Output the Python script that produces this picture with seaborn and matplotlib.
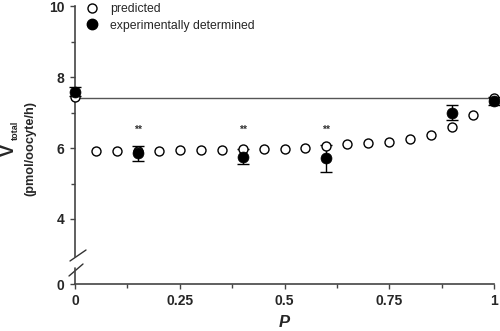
import matplotlib
matplotlib.use("Agg")
import matplotlib.pyplot as plt
import seaborn as sns
import pandas as pd
from matplotlib.lines import Line2D

# ---- data ----
p_pred = [0.0, 0.05, 0.10, 0.15, 0.20, 0.25, 0.30, 0.35, 0.40, 0.45, 0.50,
          0.55, 0.60, 0.65, 0.70, 0.75, 0.80, 0.85, 0.90, 0.95, 1.00]
v_pred = [7.43, 5.92, 5.92, 5.92, 5.92, 5.93, 5.93, 5.94, 5.96, 5.96, 5.98,
          6.01, 6.06, 6.10, 6.13, 6.17, 6.24, 6.37, 6.60, 6.92, 7.42]
p_exp = [0.0, 0.15, 0.40, 0.60, 0.90, 1.00]
v_exp = [7.59, 5.85, 5.75, 5.71, 7.00, 7.33]
err_exp = [0.12, 0.22, 0.21, 0.38, 0.22, 0.12]
star_p = [0.15, 0.40, 0.60]
star_label = ["**", "**", "**"]
ref_level = 7.4
ytick_vals = [4, 6, 8, 10]
xtick_vals = [0, 0.25, 0.5, 0.75, 1]
xtick_labels = ["0", "0.25", "0.5", "0.75", "1"]

sns.set_style("ticks")
plt.rcParams["font.family"] = ["Liberation Sans", "DejaVu Sans"]

fig = plt.figure(figsize=(5, 3.31), dpi=100)
ax = fig.add_axes([75 / 500, 47 / 331, 419 / 500, 278 / 331])

y_bottom = 10 - (284 - 6) / 35.5
ax.set_xlim(0, 1)
ax.set_ylim(y_bottom, 10)

# reference line
ax.axhline(ref_level, color="#555555", lw=1.0, zorder=1)

df_pred = pd.DataFrame({"P": p_pred, "V": v_pred})
df_exp = pd.DataFrame({"P": p_exp, "V": v_exp, "err": err_exp})

ax.errorbar(df_exp["P"], df_exp["V"], yerr=df_exp["err"], fmt="none",
            ecolor="black", elinewidth=1.0, capsize=4, capthick=1.0,
            zorder=2, clip_on=False)
sns.scatterplot(data=df_pred, x="P", y="V", ax=ax, marker="o", s=42,
                facecolor="white", edgecolor="black", linewidth=1.0,
                zorder=3, clip_on=False, legend=False)
sns.scatterplot(data=df_exp, x="P", y="V", ax=ax, marker="o", s=62,
                color="black", edgecolor="black", linewidth=0.5,
                zorder=4, clip_on=False, legend=False)

for xp, lab in zip(star_p, star_label):
    ax.text(xp, 6.52, lab, ha="center", va="center", fontsize=7.5,
            fontweight="bold", color="#333333")

# axes styling
for s in ["top", "right"]:
    ax.spines[s].set_visible(False)
gap_top = 10 - (257 - 6) / 35.5
gap_bot = 10 - (268 - 6) / 35.5
ax.spines["left"].set_bounds(gap_top, 10)
for s in ["left", "bottom"]:
    ax.spines[s].set_color("#444444")
    ax.spines[s].set_linewidth(1.2)
# lower piece of the broken y axis
ax.plot([0, 0], [y_bottom, gap_bot], color="#444444", lw=1.2,
        clip_on=False, zorder=5)
# break marks (pixel geometry converted to axes fraction)
def px(xp, yp):
    return ((xp - 75) / 419, (284 - yp) / 278)
for (x0, y0), (x1, y1) in [((70, 261), (86, 250)), ((69, 276), (83, 264))]:
    a = px(x0, y0); b = px(x1, y1)
    ax.plot([a[0], b[0]], [a[1], b[1]], transform=ax.transAxes,
            color="#333333", lw=1.0, clip_on=False)

ax.set_yticks([y_bottom] + ytick_vals)
ax.set_yticklabels(["0"] + [str(v) for v in ytick_vals])
ax.set_yticks([5, 7, 9], minor=True)
ax.set_xticks(xtick_vals)
ax.set_xticklabels(xtick_labels)
ax.set_xticks([0.125, 0.375, 0.625, 0.875], minor=True)
ax.tick_params(axis="both", which="major", direction="out", length=3.5,
               width=1.0, color="#444444", labelsize=10, pad=4)
ax.tick_params(axis="both", which="minor", direction="out", length=3,
               width=1.0, color="#444444")
for lab in ax.get_xticklabels() + ax.get_yticklabels():
    lab.set_fontweight("bold")

ax.set_xlabel("P", fontsize=12, fontweight="bold", style="italic", labelpad=5)
ax.set_ylabel("")

# y label: V with subscript "total", and the unit line
fig.text(9.5 / 500, (331 - 150) / 331, "V", rotation=90,
         ha="center", va="center", fontsize=13, fontweight="bold")
fig.text(15.5 / 500, (331 - 130) / 331, "total", rotation=90,
         ha="center", va="center", fontsize=6.5, fontweight="bold")
fig.text(30 / 500, (331 - 148) / 331, "(pmol/oocyte/h)", rotation=90,
         ha="center", va="center", fontsize=9.2, fontweight="bold")

handles = [
    Line2D([], [], ls="none", marker="o", markersize=6.5, markerfacecolor="white",
           markeredgecolor="black", markeredgewidth=1.0),
    Line2D([], [], ls="none", marker="o", markersize=7.5, markerfacecolor="black",
           markeredgecolor="black"),
]
ax.legend(handles, ["predicted", "experimentally determined"],
          loc="upper left", bbox_to_anchor=(86 / 500, (331 - 3) / 331),
          bbox_transform=fig.transFigure,
          frameon=False, fontsize=8.8, handlelength=0.9, handletextpad=1.1,
          labelspacing=0.38, borderpad=0.0, borderaxespad=0.0)

fig.savefig("out.png", dpi=100)
